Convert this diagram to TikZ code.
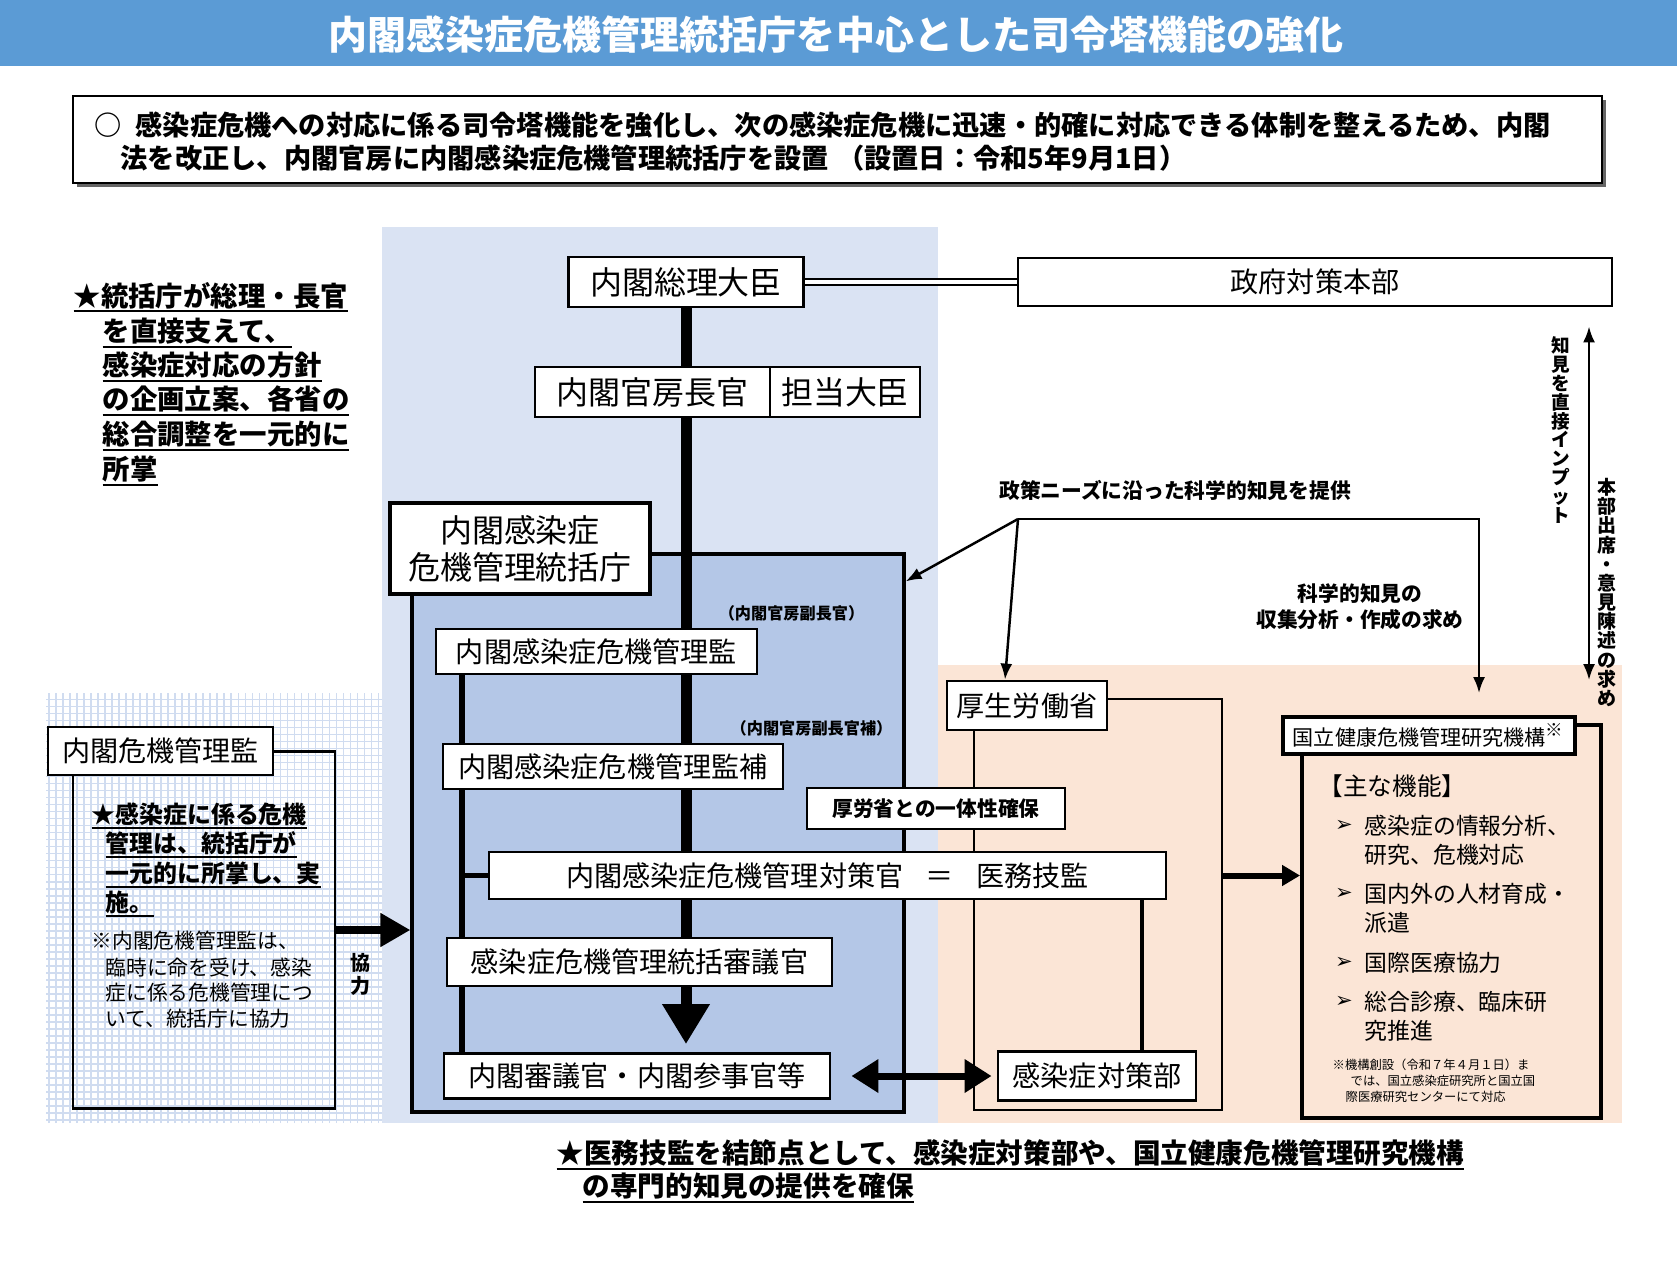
\documentclass[tikz,border=0pt]{standalone}
\usepackage{fontspec}
\setmainfont{Noto Sans CJK JP}
\newfontfamily\symfont{DejaVu Sans}
\usetikzlibrary{arrows.meta,positioning}
\pgfdeclarelayer{bg}
\pgfdeclarelayer{wires}
\pgfsetlayers{bg,wires,main}
\definecolor{titleblue}{RGB}{91,155,213}
\definecolor{paleblue}{RGB}{218,227,243}
\definecolor{midblue}{RGB}{180,199,231}
\definecolor{peach}{RGB}{251,229,214}
\definecolor{gridblue}{RGB}{208,220,240}
\newcommand{\fsz}[2]{\fontsize{#1}{#2}\selectfont}
\newcommand{\jul}[1]{\leavevmode\sbox0{#1}\rlap{\rule[-0.22em]{\wd0}{0.6pt}}\usebox0}
\tikzset{
  orgbox/.style={rectangle,draw,fill=white,line width=0.8pt,inner sep=0pt,font=\fsz{8}{9}},
  topbox/.style={orgbox,font=\fsz{9.1}{10.5}},
  outbox/.style={rectangle,draw,line width=0.7pt,inner sep=0pt},
  lbl/.style={inner sep=0pt,font=\bfseries\fsz{5.9}{7.4}},
  note/.style={anchor=west,inner sep=0pt,font=\bfseries\fsz{7.8}{9}},
  vtext/.style={inner sep=0pt,align=center,font=\bfseries\fsz{5.3}{5.35}},
  thinarr/.style={line width=0.7pt,-{Latex[length=0.16cm,width=0.12cm]}},
  spine/.style={line width=0.11cm,-{Triangle[length=0.4cm,width=0.45cm]}},
  fatarr/.style={line width=0.08cm,-{Triangle[length=0.3cm,width=0.32cm]}},
  sideline/.style={line width=1.6pt}
}
\begin{document}
\begin{tikzpicture}
  \useasboundingbox (0,0) rectangle (16.77,12.6);

  % Backgrounds
  \begin{pgfonlayer}{bg}
    \fill[titleblue] (0,11.94) rectangle (16.77,12.6);
    \fill[paleblue] (3.82,1.37) rectangle (9.38,10.33);
    \fill[peach] (9.38,1.37) rectangle (16.22,5.95);
    \draw[gridblue,line width=0.3pt,step=0.07] (0.46,1.37) grid (3.82,5.67);
    \node[outbox,fill=midblue,line width=0.9pt,minimum width=4.92cm,minimum height=5.58cm] (agencybg) at (6.58,4.27) {};
  \end{pgfonlayer}

  % Title and lead box
  \node[font=\bfseries\fsz{11.1}{12},text=white,inner sep=0pt] (title) at (8.36,12.25)
    {内閣感染症危機管理統括庁を中心とした司令塔機能の強化};
  \fill[black!60] (0.77,10.73) rectangle (16.06,11.60);
  \node[orgbox,line width=0.6pt,minimum width=15.29cm,minimum height=0.87cm] (introbox) at (8.375,11.205) {};
  \node[note,font=\bfseries\fsz{7.75}{9}] (intro1) at (0.94,11.35)
    {○\hspace{0.5em}感染症危機への対応に係る司令塔機能を強化し、次の感染症危機に迅速・的確に対応できる体制を整えるため、内閣};
  \node[note,font=\bfseries\fsz{7.75}{9}] (intro2) at (1.20,11.02)
    {法を改正し、内閣官房に内閣感染症危機管理統括庁を設置\hspace{0.3em}（設置日：令和5年9月1日）};

  % Cabinet column
  \node[topbox,minimum width=2.35cm,minimum height=0.5cm] (pm) at (6.86,9.78) {内閣総理大臣};
  \node[orgbox,minimum width=5.94cm,minimum height=0.48cm] (hq) at (13.15,9.78) {政府対策本部};
  \node[topbox,minimum width=2.35cm,minimum height=0.5cm] (cs) at (6.525,8.68) {内閣官房長官};
  \node[topbox,minimum width=1.5cm,minimum height=0.5cm,right=-0.8pt of cs] (minister) {担当大臣};
  \node[topbox,line width=1.1pt,align=center,minimum width=2.6cm,minimum height=0.91cm] (agency) at (5.20,7.115)
    {内閣感染症\\危機管理統括庁};
  \node[orgbox,minimum width=3.21cm,minimum height=0.45cm] (dir) at (5.965,6.085) {内閣感染症危機管理監};
  \node[orgbox,minimum width=3.40cm,minimum height=0.45cm] (ddir) at (6.13,4.935) {内閣感染症危機管理監補};
  \node[orgbox,minimum width=6.77cm,minimum height=0.47cm] (ctr) at (8.275,3.845)
    {内閣感染症危機管理対策官\hspace{0.8em}＝\hspace{0.8em}医務技監};
  \node[orgbox,minimum width=3.85cm,minimum height=0.48cm] (cnl) at (6.395,2.98) {感染症危機管理統括審議官};
  \node[orgbox,minimum width=3.86cm,minimum height=0.45cm] (staff) at (6.37,1.84) {内閣審議官・内閣参事官等};
  \node[lbl,font=\bfseries\fsz{4.6}{5}] (vc) at (7.915,6.47) {（内閣官房副長官）};
  \node[lbl,font=\bfseries\fsz{4.6}{5}] (vca) at (8.115,5.32) {（内閣官房副長官補）};

  % MHLW side
  \begin{pgfonlayer}{wires}
    \node[outbox,minimum width=2.48cm,minimum height=4.11cm] (mhlwbox) at (10.98,3.555) {};
  \end{pgfonlayer}
  \node[orgbox,minimum width=1.6cm,minimum height=0.49cm] (mhlw) at (10.27,5.545) {厚生労働省};
  \node[orgbox,lbl,draw,fill=white,line width=0.8pt,minimum width=2.58cm,minimum height=0.41cm] (unity) at (9.36,4.515)
    {厚労省との一体性確保};
  \node[orgbox,minimum width=1.98cm,minimum height=0.49cm] (deptl) at (10.97,1.84) {感染症対策部};

  % JIHS
  \node[outbox,line width=1.1pt,minimum width=2.99cm,minimum height=3.93cm] (jihsbox) at (14.515,3.385) {};
  \node[orgbox,line width=1.1pt,minimum width=2.92cm,minimum height=0.37cm,font=\fsz{6}{7}] (jihs) at (14.29,5.245)
    {国立健康危機管理研究機構\textsuperscript{※}};
  \node[anchor=west,inner sep=0pt,font=\fsz{7}{8}] (func) at (13.18,4.74) {【主な機能】};
  \foreach \y/\t [count=\i] in {4.34/感染症の情報分析、,4.05/研究、危機対応,3.66/国内外の人材育成・,
      3.37/派遣,2.97/国際医療協力,2.58/総合診療、臨床研,2.29/究推進}
    \node[anchor=west,inner sep=0pt,font=\fsz{6.5}{7}] (item\i) at (13.64,\y) {\t};
  \foreach \y [count=\i] in {4.34,3.66,2.97,2.58}
    \node[inner sep=0pt,font=\symfont\fsz{6}{7}] (bul\i) at (13.44,\y) {➢};
  \node[anchor=west,inner sep=0pt,font=\fsz{3.5}{4}] (fn1) at (13.32,1.95) {※機構創設（令和７年４月１日）ま};
  \node[anchor=west,inner sep=0pt,font=\fsz{3.5}{4}] (fn2) at (13.50,1.79) {では、国立感染症研究所と国立国};
  \node[anchor=west,inner sep=0pt,font=\fsz{3.5}{4}] (fn3) at (13.45,1.63) {際医療研究センターにて対応};

  % Crisis management
  \node[outbox,minimum width=2.62cm,minimum height=3.57cm] (crisisbox) at (2.04,3.30) {};
  \node[orgbox,minimum width=2.25cm,minimum height=0.48cm] (crisis) at (1.605,5.09) {内閣危機管理監};
  \foreach \x/\y/\t [count=\i] in {0.91/4.44/★感染症に係る危機,1.05/4.15/管理は、統括庁が,
      1.05/3.85/一元的に所掌し、実,1.05/3.56/施。}
    \node[note,font=\bfseries\fsz{6.8}{8}] (cnote\i) at (\x,\y) {\jul{\t}};
  \foreach \x/\y/\t [count=\i] in {0.91/3.19/※内閣危機管理監は、,1.05/2.92/臨時に命を受け、感染,
      1.05/2.67/症に係る危機管理につ,1.05/2.41/いて、統括庁に協力}
    \node[anchor=west,inner sep=0pt,font=\fsz{5.9}{7}] (cref\i) at (\x,\y) {\t};
  \node[vtext,font=\bfseries\fsz{5.7}{6.5}] (coop) at (3.61,2.855) {協\\力};

  % Side notes
  \foreach \x/\y/\t [count=\i] in {0.73/9.63/★統括庁が総理・長官,1.02/9.27/を直接支えて、,
      1.02/8.93/感染症対応の方針,1.02/8.59/の企画立案、各省の,1.02/8.24/総合調整を一元的に,1.02/7.89/所掌}
    \node[note] (lead\i) at (\x,\y) {\jul{\t}};
  \node[note,font=\bfseries\fsz{7.85}{9}] (foot1) at (5.56,1.05)
    {\jul{★医務技監を結節点として、感染症対策部や、国立健康危機管理研究機構}};
  \node[note,font=\bfseries\fsz{7.85}{9}] (foot2) at (5.82,0.72) {\jul{の専門的知見の提供を確保}};

  \node[lbl] (need) at (11.75,7.70) {政策ニーズに沿った科学的知見を提供};
  \node[lbl,align=center] (req) at (13.6,6.53) {科学的知見の\\収集分析・作成の求め};
  \node[vtext] (inp) at (15.61,8.30) {知\\見\\を\\直\\接\\イ\\ン\\プ\\ッ\\ト};
  \node[vtext,font=\bfseries\fsz{5.4}{5.45}] (att) at (16.07,6.675) {本\\部\\出\\席\\・\\意\\見\\陳\\述\\の\\求\\め};

  % Connectors
  \coordinate (J) at (10.18,7.41);
  \coordinate (Jr) at (14.79,7.41);
  \coordinate (lx) at (4.62,0);
  \coordinate (rx) at (11.42,0);
  \coordinate (vx) at (15.89,0);
  \begin{pgfonlayer}{wires}
    \draw[spine,shorten >=0.08cm] (pm.south) -- (pm.south |- staff.north);
    \draw[sideline] (dir.south -| lx) -- (staff.north -| lx);
    \draw[sideline] (ctr.west -| lx) -- (ctr.west);
    \draw[line width=0.9pt] (ctr.south -| rx) -- (deptl.north -| rx);
    \draw[double,double distance=0.9pt,line width=0.7pt] (pm.east) -- (hq.west);
  \end{pgfonlayer}
  \draw[thinarr] (J) -- ([yshift=-0.29cm]agencybg.north east);
  \draw[thinarr] (J) -- ([xshift=-0.22cm]mhlw.north);
  \draw[thinarr,shorten >=0.22cm] (J) -- (Jr) -- (Jr |- jihs.north);
  \draw[line width=0.7pt,{Latex[length=0.16cm,width=0.12cm]}-{Latex[length=0.16cm,width=0.12cm]},
    shorten <=0.19cm,shorten >=0.43cm] (hq.south -| vx) -- (jihsbox.north -| vx);
  \draw[fatarr] (crisisbox.east) -- (crisisbox.east -| agencybg.west);
  \draw[line width=0.06cm,-{Triangle[length=0.18cm,width=0.2cm]}] (ctr.east -| mhlwbox.east) -- (ctr.east -| jihsbox.west);
  \draw[line width=0.07cm,{Triangle[length=0.27cm,width=0.32cm]}-{Triangle[length=0.27cm,width=0.32cm]},
    shorten <=0.2cm,shorten >=0.05cm] (staff.east) -- (deptl.west);

\end{tikzpicture}
\end{document}
